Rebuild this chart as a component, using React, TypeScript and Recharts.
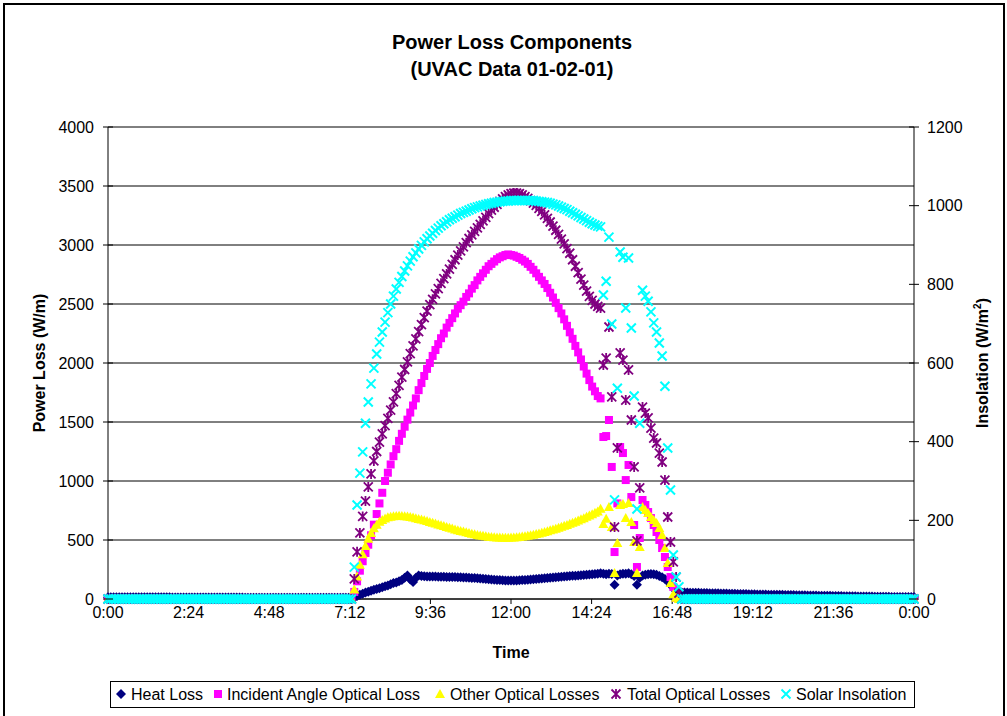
import { ScatterChart, Scatter, XAxis, YAxis, CartesianGrid } from 'recharts'

const FONT = "'Liberation Sans', Arial, Helvetica, sans-serif"
const NAVY = '#000080'
const MAGENTA = '#ff00ff'
const YELLOW = '#ffff00'
const PURPLE = '#800080'
const CYAN = '#00ffff'

const PLOT_L = 108
const PLOT_R = 914

// sample clock, minutes after midnight (5-minute logger)
const amNightTimes = [
  0, 5, 10, 15, 20, 25, 30, 35, 40, 45, 50, 55,
  60, 65, 70, 75, 80, 85, 90, 95, 100, 105, 110, 115,
  120, 125, 130, 135, 140, 145, 150, 155, 160, 165, 170, 175,
  180, 185, 190, 195, 200, 205, 210, 215, 220, 225, 230, 235,
  240, 245, 250, 255, 260, 265, 270, 275, 280, 285, 290, 295,
  300, 305, 310, 315, 320, 325, 330, 335, 340, 345, 350, 355,
  360, 365, 370, 375, 380, 385, 390, 395, 400, 405, 410, 415,
  420, 425, 430, 435,
]
const dayTimes = [
  440, 445, 450, 455, 460, 465, 470, 475, 480, 485,
  490, 495, 500, 505, 510, 515, 520, 525, 530, 535,
  540, 545, 550, 555, 560, 565, 570, 575, 580, 585,
  590, 595, 600, 605, 610, 615, 620, 625, 630, 635,
  640, 645, 650, 655, 660, 665, 670, 675, 680, 685,
  690, 695, 700, 705, 710, 715, 720, 725, 730, 735,
  740, 745, 750, 755, 760, 765, 770, 775, 780, 785,
  790, 795, 800, 805, 810, 815, 820, 825, 830, 835,
  840, 845, 850, 855, 860, 865, 870, 875,
  880, 885, 890, 895, 900, 905, 910, 915, 920, 925,
  930, 935, 940, 945, 950, 955, 960, 965, 970, 975,
  980, 985, 990, 995, 1000, 1005, 1010, 1015, 1020,
]
const pmNightTimes = [
  1025, 1030, 1035, 1040, 1045, 1050, 1055, 1060, 1065, 1070, 1075, 1080,
  1085, 1090, 1095, 1100, 1105, 1110, 1115, 1120, 1125, 1130, 1135, 1140,
  1145, 1150, 1155, 1160, 1165, 1170, 1175, 1180, 1185, 1190, 1195, 1200,
  1205, 1210, 1215, 1220, 1225, 1230, 1235, 1240, 1245, 1250, 1255, 1260,
  1265, 1270, 1275, 1280, 1285, 1290, 1295, 1300, 1305, 1310, 1315, 1320,
  1325, 1330, 1335, 1340, 1345, 1350, 1355, 1360, 1365, 1370, 1375, 1380,
  1385, 1390, 1395, 1400, 1405, 1410, 1415, 1420, 1425, 1430, 1435, 1440,
]

// Heat Loss (W/m)
const heatLossAm = [
  15, 15, 15, 15, 15, 15, 15, 15, 15, 15, 15,
  14, 14, 14, 14, 14, 14, 14, 14, 14, 14, 14,
  14, 13, 13, 13, 13, 13, 13, 13, 13, 13, 13,
  13, 13, 12, 12, 12, 12, 12, 12, 12, 12, 12,
  12, 12, 12, 12, 12, 11, 11, 11, 11, 11, 11,
  11, 11, 11, 11, 11, 11, 11, 11, 11, 10, 10,
  10, 10, 10, 10, 10, 10, 10, 10, 10, 10, 10,
  10, 10, 10, 10, 10, 10, 10, 10, 10, 10, 10,
]
const heatLossDay = [
  10, 25, 35, 45, 55, 62, 70, 78, 85, 92,
  100, 108, 115, 125, 135, 140, 150, 160, 180, 200,
  165, 145, 180, 200, 195, 192, 190, 190, 190, 190,
  189, 188, 188, 187, 187, 186, 186, 185, 184, 183,
  182, 180, 179, 177, 176, 174, 172, 170, 168, 166,
  164, 162, 160, 158, 157, 156, 156, 156, 157, 158,
  160, 162, 164, 166, 168, 170, 172, 174, 176, 178,
  180, 182, 184, 186, 188, 190, 192, 194, 196, 198,
  200, 202, 204, 206, 208, 210, 212, 214,
  218, 215, 210, 215, 212, 120, 200, 210, 215, 215,
  218, 210, 195, 120, 180, 200, 205, 210, 212, 210,
  205, 195, 185, 170, 150, 120, 95, 65, 60,
]
const heatLossPm = [
  56, 55, 55, 54, 53, 53, 52, 51, 51, 50, 49, 49,
  48, 48, 47, 46, 46, 45, 45, 44, 43, 43, 42, 42,
  41, 41, 40, 39, 39, 38, 38, 37, 37, 36, 36, 35,
  35, 34, 34, 33, 33, 32, 32, 31, 31, 30, 30, 29,
  29, 28, 28, 27, 27, 27, 26, 26, 25, 25, 24, 24,
  24, 23, 23, 22, 22, 22, 21, 21, 21, 20, 20, 20,
  19, 19, 19, 18, 18, 18, 18, 17, 17, 17, 17, 16,
]

// Incident Angle Optical Loss (W/m)
const incidentDay = [
  60, 150, 240, 320, 390, 460, 540, 630, 720, 810,
  900, 1000, 1070, 1140, 1210, 1270, 1340, 1400, 1460, 1520,
  1580, 1640, 1700, 1770, 1830, 1890, 1950, 2000, 2060, 2110,
  2160, 2210, 2250, 2300, 2340, 2380, 2420, 2460, 2490, 2520,
  2560, 2590, 2630, 2660, 2700, 2730, 2760, 2790, 2820, 2840,
  2860, 2880, 2895, 2905, 2915, 2920, 2915, 2910, 2900, 2890,
  2875, 2860, 2840, 2815, 2790, 2760, 2730, 2700, 2670, 2635,
  2595, 2555, 2510, 2465, 2420, 2370, 2315, 2260, 2205, 2145,
  2090, 2030, 1970, 1910, 1855, 1800, 1760, 1720,
  1700, 1373, 1381, 1517, 1119, 398, 810, 1288, 1237, 1008,
  1136, 864, 627, 271, 517, 839, 797, 737, 686, 627,
  568, 500, 432, 356, 271, 186, 102, 10, 0,
]

// Other Optical Losses (W/m)
const otherDay = [
  80, 190, 290, 380, 450, 510, 560, 600, 630, 655,
  670, 683, 692, 698, 702, 704, 705, 704, 702, 699,
  695, 690, 685, 679, 673, 667, 660, 653, 646, 639,
  632, 625, 618, 611, 604, 597, 590, 583, 577, 571,
  565, 559, 553, 548, 543, 539, 535, 531, 528, 526,
  524, 522, 521, 520, 520, 520, 521, 522, 524, 526,
  529, 532, 536, 540, 545, 550, 556, 562, 568, 575,
  582, 589, 596, 604, 612, 620, 628, 637, 646, 655,
  665, 675, 685, 696, 707, 718, 730, 742,
  765, 636, 680, 780, 610, 220, 475, 797, 805, 686,
  814, 653, 483, 220, 441, 780, 754, 729, 695, 670,
  644, 602, 542, 432, 305, 136, 40, 10, 0,
]

// Total Optical Losses (W/m)
const totalDay = [
  170, 400, 560, 700, 830, 950, 1060, 1170, 1250, 1330,
  1400, 1470, 1530, 1600, 1670, 1740, 1810, 1880, 1945, 2010,
  2080, 2145, 2205, 2265, 2325, 2385, 2440, 2495, 2540, 2585,
  2630, 2675, 2715, 2755, 2795, 2835, 2875, 2915, 2950, 2985,
  3020, 3055, 3085, 3115, 3145, 3175, 3205, 3235, 3265, 3295,
  3320, 3345, 3370, 3390, 3410, 3425, 3435, 3440, 3440, 3435,
  3425, 3410, 3395, 3375, 3355, 3335, 3310, 3285, 3255, 3225,
  3195, 3160, 3125, 3090, 3050, 3010, 2970, 2930, 2875, 2820,
  2765, 2710, 2660, 2610, 2565, 2530, 2500, 2480,
  2466, 1983, 2042, 2305, 1712, 610, 1280, 2085, 2025, 1686,
  1941, 1517, 1119, 492, 941, 1627, 1576, 1534, 1449, 1364,
  1322, 1237, 1161, 1008, 695, 483, 314, 186, 50,
]

// Solar Insolation (W/m2)
const insolationDay = [
  81, 239, 320, 374, 447, 501, 547, 587, 623, 653,
  679, 704, 728, 750, 770, 788, 805, 820, 834, 847,
  859, 870, 880, 890, 899, 908, 916, 923, 930, 937,
  943, 949, 954, 959, 964, 968, 972, 976, 980, 983,
  986, 989, 992, 995, 997, 999, 1001, 1003, 1005, 1006,
  1008, 1009, 1010, 1011, 1012, 1012, 1013, 1013, 1013, 1013,
  1013, 1013, 1013, 1013, 1013, 1012, 1011, 1010, 1009, 1008,
  1006, 1004, 1002, 999, 996, 993, 990, 986, 982, 978,
  974, 970, 966, 962, 958, 954, 951, 948,
  946, 773, 808, 920, 699, 252, 536, 882, 869, 740,
  867, 689, 516, 229, 447, 785, 770, 757, 730, 702,
  679, 651, 618, 541, 384, 277, 112, 56, 31,
]

// optics and sun read zero overnight
const nightZeroAm = [
  0, 0, 0, 0, 0, 0, 0, 0, 0, 0, 0,
  0, 0, 0, 0, 0, 0, 0, 0, 0, 0, 0,
  0, 0, 0, 0, 0, 0, 0, 0, 0, 0, 0,
  0, 0, 0, 0, 0, 0, 0, 0, 0, 0, 0,
  0, 0, 0, 0, 0, 0, 0, 0, 0, 0, 0,
  0, 0, 0, 0, 0, 0, 0, 0, 0, 0, 0,
  0, 0, 0, 0, 0, 0, 0, 0, 0, 0, 0,
  0, 0, 0, 0, 0, 0, 0, 0, 0, 0, 0,
]
const nightZeroPm = [
  0, 0, 0, 0, 0, 0, 0, 0, 0, 0, 0, 0,
  0, 0, 0, 0, 0, 0, 0, 0, 0, 0, 0, 0,
  0, 0, 0, 0, 0, 0, 0, 0, 0, 0, 0, 0,
  0, 0, 0, 0, 0, 0, 0, 0, 0, 0, 0, 0,
  0, 0, 0, 0, 0, 0, 0, 0, 0, 0, 0, 0,
  0, 0, 0, 0, 0, 0, 0, 0, 0, 0, 0, 0,
  0, 0, 0, 0, 0, 0, 0, 0, 0, 0, 0, 0,
]

const timeTicks = [0, 144, 288, 432, 576, 720, 864, 1008, 1152, 1296, 1440]
const lossTicks = [0, 500, 1000, 1500, 2000, 2500, 3000, 3500, 4000]
const insolTicks = [0, 200, 400, 600, 800, 1000, 1200]

const pts = (times: number[], vals: number[]) => times.map((t, i) => ({ t, v: vals[i] }))
const fullDay = (am: number[], day: number[], pm: number[]) =>
  [...pts(amNightTimes, am), ...pts(dayTimes, day), ...pts(pmNightTimes, pm)]

const heatData = fullDay(heatLossAm, heatLossDay, heatLossPm)
const incidentData = fullDay(nightZeroAm, incidentDay, nightZeroPm)
const otherData = fullDay(nightZeroAm, otherDay, nightZeroPm)
const totalData = fullDay(nightZeroAm, totalDay, nightZeroPm)
const insolData = fullDay(nightZeroAm, insolationDay, nightZeroPm)

const fmtTime = (m: number) => `${Math.floor(m / 60) % 24}:${String(Math.round(m % 60)).padStart(2, '0')}`

// Excel-style markers
const Diamond = ({ cx, cy }: any) => {
  const r = 5
  return <path d={`M${cx} ${cy - r}L${cx + r} ${cy}L${cx} ${cy + r}L${cx - r} ${cy}Z`} fill={NAVY} />
}
const Square = ({ cx, cy }: any) => <rect x={cx - 4} y={cy - 4} width={8} height={8} fill={MAGENTA} />
const Triangle = ({ cx, cy }: any) => (
  <path d={`M${cx} ${cy - 5}L${cx + 5} ${cy + 4}L${cx - 5} ${cy + 4}Z`} fill={YELLOW} />
)
const Star = ({ cx, cy }: any) => {
  const r = 4.5
  return (
    <path d={`M${cx - r} ${cy - r}L${cx + r} ${cy + r}M${cx - r} ${cy + r}L${cx + r} ${cy - r}M${cx} ${cy - r - 0.5}L${cx} ${cy + r + 0.5}`}
      stroke={PURPLE} strokeWidth={1.8} fill="none" />
  )
}
const Cross = ({ cx, cy }: any) => {
  const r = 4.5
  return <path d={`M${cx - r} ${cy - r}L${cx + r} ${cy + r}M${cx - r} ${cy + r}L${cx + r} ${cy - r}`} stroke={CYAN} strokeWidth={2} fill="none" />
}

const tickFont = { fontSize: 16, fill: '#000', fontFamily: FONT }

// y ticks with a mark crossing the axis line
const LeftTick = ({ x, y, payload }: any) => (
  <g>
    <line x1={PLOT_L - 5} x2={PLOT_L + 5} y1={y} y2={y} stroke="#000" />
    <text x={x} y={y} dy="0.355em" textAnchor="end" {...tickFont}>{payload.value}</text>
  </g>
)
const RightTick = ({ x, y, payload }: any) => (
  <g>
    <line x1={PLOT_R - 5} x2={PLOT_R + 5} y1={y} y2={y} stroke="#000" />
    <text x={x} y={y} dy="0.355em" textAnchor="start" {...tickFont}>{payload.value}</text>
  </g>
)

const legendItems = [
  { name: 'Heat Loss', Mark: Diamond, mx: 10, tx: 20 },
  { name: 'Incident Angle Optical Loss', Mark: Square, mx: 107, tx: 116 },
  { name: 'Other Optical Losses', Mark: Triangle, mx: 329, tx: 339 },
  { name: 'Total Optical Losses', Mark: Star, mx: 505, tx: 516 },
  { name: 'Solar Insolation', Mark: Cross, mx: 675, tx: 685 },
]

const boldTitle = { fontFamily: FONT, fontWeight: 700, color: '#000' } as const

export default function App() {
  return (
    <div style={{ position: 'absolute', left: 0, top: 0, width: 1007, height: 716, background: '#fff', overflow: 'hidden', fontFamily: FONT }}>
      <div style={{ position: 'absolute', left: 3, top: 3, width: 998, height: 730, border: '2px solid #000' }} />

      <div style={{ ...boldTitle, position: 'absolute', left: 312, top: 29, width: 400, textAlign: 'center', fontSize: 20, lineHeight: '27px' }}>
        Power Loss Components<br />(UVAC Data 01-02-01)
      </div>

      <div style={{ position: 'absolute', left: 0, top: 0 }}>
        <ScatterChart width={1007} height={716} margin={{ top: 127, right: 33, bottom: 87, left: 48 }}>
          <CartesianGrid vertical={false} stroke="#000" strokeWidth={1} />
          <XAxis type="number" dataKey="t" domain={[0, 1440]} ticks={timeTicks} tickFormatter={fmtTime}
            height={30} tickSize={5} tickMargin={3} interval={0}
            axisLine={{ stroke: '#000' }} tickLine={{ stroke: '#000' }} tick={tickFont} />
          <YAxis type="number" dataKey="v" domain={[0, 4000]} ticks={lossTicks} width={60} interval={0}
            tickSize={5} tickMargin={9} axisLine={{ stroke: '#000' }} tickLine={false} tick={<LeftTick />} />
          <YAxis yAxisId="right" orientation="right" type="number" dataKey="v" domain={[0, 1200]} ticks={insolTicks}
            width={60} interval={0} tickSize={5} tickMargin={8} axisLine={{ stroke: '#000' }} tickLine={false} tick={<RightTick />} />
          <Scatter name="Heat Loss" data={heatData} shape={Diamond} isAnimationActive={false} />
          <Scatter name="Incident Angle Optical Loss" data={incidentData} shape={Square} isAnimationActive={false} />
          <Scatter name="Other Optical Losses" data={otherData} shape={Triangle} isAnimationActive={false} />
          <Scatter name="Total Optical Losses" data={totalData} shape={Star} isAnimationActive={false} />
          <Scatter name="Solar Insolation" yAxisId="right" data={insolData} shape={Cross} isAnimationActive={false} />
        </ScatterChart>
      </div>

      <div style={{ ...boldTitle, position: 'absolute', left: 40, top: 363, fontSize: 16, whiteSpace: 'nowrap', transform: 'translate(-50%, -50%) rotate(-90deg)' }}>
        Power Loss (W/m)
      </div>
      <div style={{ ...boldTitle, position: 'absolute', left: 982, top: 363, fontSize: 16, whiteSpace: 'nowrap', transform: 'translate(-50%, -50%) rotate(-90deg)' }}>
        Insolation (W/m<sup style={{ fontSize: 10 }}>2</sup>)
      </div>
      <div style={{ ...boldTitle, position: 'absolute', left: 511, top: 653, fontSize: 16, transform: 'translate(-50%, -50%)' }}>
        Time
      </div>

      <div style={{ position: 'absolute', left: 110, top: 681, width: 803, height: 25, border: '1px solid #000' }}>
        {legendItems.map(({ name, Mark, mx, tx }) => (
          <div key={name}>
            <svg style={{ position: 'absolute', left: mx - 6, top: 6 }} width={12} height={12}>
              <Mark cx={6} cy={6} />
            </svg>
            <span style={{ position: 'absolute', left: tx, top: 3, fontSize: 16, lineHeight: '19px', whiteSpace: 'nowrap', color: '#000' }}>{name}</span>
          </div>
        ))}
      </div>
    </div>
  )
}
